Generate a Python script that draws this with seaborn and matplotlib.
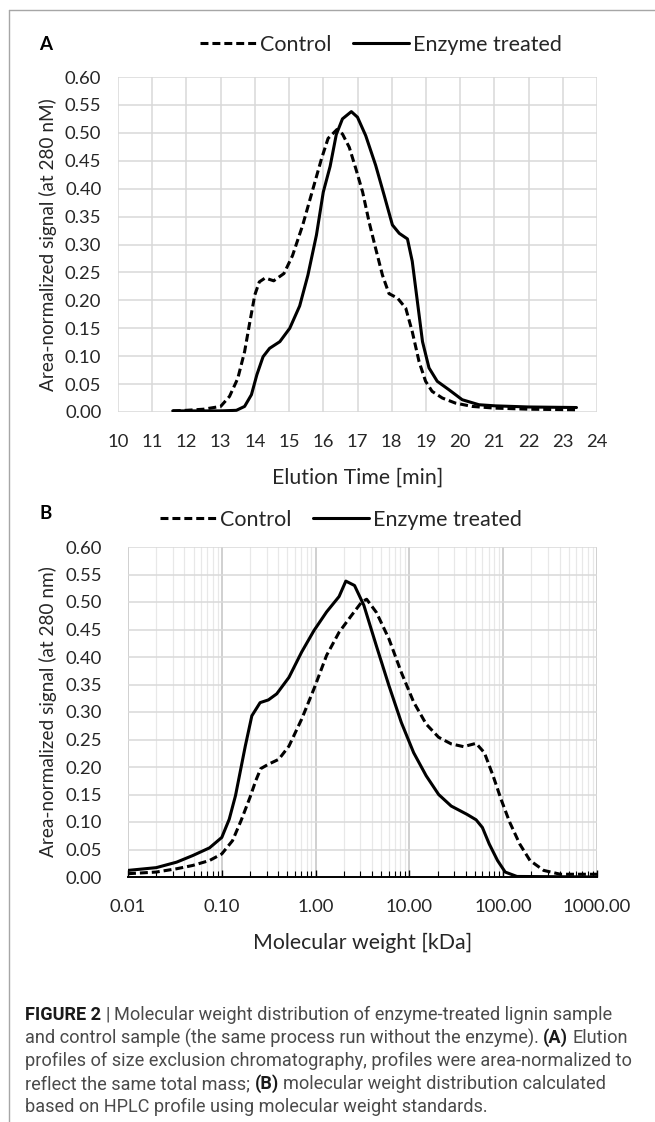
import matplotlib
matplotlib.use('Agg')
import matplotlib.pyplot as plt
import seaborn as sns
from matplotlib.lines import Line2D
from matplotlib.ticker import LogLocator, NullFormatter

sns.set_theme(style="whitegrid")
plt.rcParams['font.family'] = ['Lato', 'DejaVu Sans']

# ---- panel A: elution profiles ----
elution_ctrl = [11.6, 12.0, 12.5, 13.0, 13.26, 13.5, 13.7, 13.85, 14.0, 14.13, 14.3, 14.55,
                14.85, 15.1, 15.4, 15.7, 15.95, 16.14, 16.4, 16.56, 16.76, 16.95, 17.15,
                17.34, 17.53, 17.73, 17.92, 18.17, 18.41, 18.6, 18.8, 18.99, 19.18, 19.48,
                19.86, 20.35, 21.0, 22.0, 23.4]
signal_ctrl = [0.002, 0.003, 0.005, 0.01, 0.028, 0.06, 0.108, 0.16, 0.21, 0.233, 0.24, 0.235,
               0.248, 0.28, 0.335, 0.40, 0.454, 0.49, 0.506, 0.498, 0.474, 0.436, 0.394,
               0.34, 0.293, 0.245, 0.212, 0.204, 0.186, 0.144, 0.09, 0.055, 0.037, 0.025,
               0.016, 0.01, 0.007, 0.005, 0.004]
elution_enz = [11.6, 12.5, 13.0, 13.46, 13.7, 13.9, 14.06, 14.24, 14.43, 14.73, 15.02, 15.31,
               15.55, 15.8, 16.0, 16.2, 16.38, 16.56, 16.82, 17.0, 17.24, 17.53, 17.78,
               18.02, 18.22, 18.46, 18.6, 18.75, 18.9, 19.09, 19.33, 19.67, 20.06, 20.55,
               21.03, 22.0, 23.4]
signal_enz = [0.002, 0.002, 0.002, 0.003, 0.01, 0.031, 0.067, 0.099, 0.114, 0.126, 0.15, 0.19,
              0.245, 0.317, 0.394, 0.44, 0.497, 0.525, 0.538, 0.528, 0.495, 0.442, 0.388,
              0.335, 0.32, 0.31, 0.27, 0.198, 0.126, 0.079, 0.055, 0.04, 0.022, 0.013,
              0.011, 0.009, 0.008]

# ---- panel B: molecular weight distribution ----
mw_ctrl = [0.01, 0.02, 0.033, 0.049, 0.074, 0.1, 0.13, 0.16, 0.2, 0.23, 0.26, 0.314, 0.405,
           0.52, 0.71, 0.96, 1.31, 1.78, 2.4, 3.1, 3.5, 4.45, 6.05, 8.2, 11.1, 15.1, 20.5,
           27.9, 37.8, 51.4, 63, 78, 95, 117, 150, 193, 270, 407, 1000]
mw_signal_ctrl = [0.006, 0.009, 0.015, 0.021, 0.03, 0.042, 0.066, 0.102, 0.145, 0.175, 0.197,
                  0.205, 0.214, 0.238, 0.287, 0.342, 0.403, 0.445, 0.475, 0.5, 0.505, 0.481,
                  0.433, 0.372, 0.318, 0.278, 0.254, 0.242, 0.237, 0.243, 0.226, 0.184,
                  0.141, 0.1, 0.06, 0.03, 0.012, 0.005, 0.005]
mw_enz = [0.01, 0.02, 0.033, 0.049, 0.074, 0.1, 0.12, 0.14, 0.178, 0.209, 0.256, 0.314,
          0.385, 0.52, 0.71, 0.96, 1.31, 1.78, 2.1, 2.6, 3.27, 4.45, 6.05, 8.2, 11.1, 15.1,
          20.5, 27.9, 41, 51.4, 60, 71, 87, 105, 140, 1000]
mw_signal_enz = [0.012, 0.017, 0.027, 0.039, 0.053, 0.072, 0.105, 0.148, 0.238, 0.293, 0.317,
                 0.322, 0.333, 0.363, 0.409, 0.448, 0.482, 0.51, 0.538, 0.53, 0.494, 0.42,
                 0.348, 0.281, 0.226, 0.184, 0.15, 0.129, 0.114, 0.104, 0.09, 0.06, 0.03,
                 0.009, 0.001, 0.0]

elution_ticks = list(range(10, 25))
signal_ticks = [0.00, 0.05, 0.10, 0.15, 0.20, 0.25, 0.30, 0.35, 0.40, 0.45, 0.50, 0.55, 0.60]
mw_ticks = [0.01, 0.1, 1, 10, 100, 1000]
mw_tick_labels = ['0.01', '0.10', '1.00', '10.00', '100.00', '1000.00']

W, H = 655, 1122
def fx(px):
    return px / W
def fy(py):
    return 1 - py / H

fig = plt.figure(figsize=(W / 100, H / 100), dpi=100)
fig.patch.set_facecolor('white')

dash = (0, (2.6, 1.3))
txt_col = '#262626'
line_kw = dict(color='black', lw=2.2, solid_joinstyle='round', dash_joinstyle='round')
leg_kw = dict(loc='center', ncol=2, frameon=False, handlelength=2.6, handletextpad=0.2,
              columnspacing=1.0, fontsize=15.5, labelcolor=txt_col)

# ---------- A ----------
axA = fig.add_axes([fx(118), fy(412), (597 - 118) / W, (412 - 77) / H])
sns.lineplot(x=elution_ctrl, y=signal_ctrl, ax=axA, linestyle=dash, label='Control', **line_kw)
sns.lineplot(x=elution_enz, y=signal_enz, ax=axA, label='Enzyme treated', **line_kw)
axA.set_xlim(10, 24)
axA.set_ylim(0, 0.6)
axA.set_xticks(elution_ticks)
axA.set_xticklabels([str(t) for t in elution_ticks])
axA.set_yticks(signal_ticks)
axA.set_yticklabels([f'{v:.2f}' for v in signal_ticks])
axA.grid(True, color='#d9d9d9', lw=1.1)
for s in axA.spines.values():
    s.set_visible(False)
axA.tick_params(axis='both', length=0, labelsize=13.3, labelcolor=txt_col)
axA.tick_params(axis='x', pad=16)
axA.tick_params(axis='y', pad=12)
axA.set_xlabel('Elution Time [min]', fontsize=15.3, color=txt_col)
axA.xaxis.set_label_coords(0.5, -66 / 335)
axA.xaxis.label.set_va('center')
axA.set_ylabel('Area-normalized signal (at 280 nM)', fontsize=13.7, color=txt_col)
axA.yaxis.set_label_coords((48 - 118) / 479, 0.5)
axA.yaxis.label.set_va('center')
axA.legend(bbox_to_anchor=(fx(381), fy(45)), bbox_transform=fig.transFigure, **leg_kw)

# ---------- B ----------
axB = fig.add_axes([fx(128), fy(877), (597 - 128) / W, (877 - 547) / H])
sns.lineplot(x=mw_ctrl, y=mw_signal_ctrl, ax=axB, linestyle=dash, label='Control', **line_kw)
sns.lineplot(x=mw_enz, y=mw_signal_enz, ax=axB, label='Enzyme treated', **line_kw)
axB.set_xscale('log')
axB.set_xlim(0.01, 1000)
axB.set_ylim(0, 0.6)
axB.set_xticks(mw_ticks)
axB.set_xticklabels(mw_tick_labels)
axB.xaxis.set_minor_locator(LogLocator(base=10, subs=range(2, 10)))
axB.xaxis.set_minor_formatter(NullFormatter())
axB.set_yticks(signal_ticks)
axB.set_yticklabels([f'{v:.2f}' for v in signal_ticks])
axB.grid(True, which='major', axis='x', color='#c4c4c4', lw=1.1)
axB.grid(True, which='minor', axis='x', color='#e8e8e8', lw=0.9)
axB.grid(True, which='major', axis='y', color='#d9d9d9', lw=1.1)
for k, s in axB.spines.items():
    s.set_visible(k == 'bottom')
axB.spines['bottom'].set_color('black')
axB.spines['bottom'].set_linewidth(1.4)
axB.tick_params(axis='x', which='both', direction='in', bottom=True, color='black')
axB.tick_params(axis='x', which='major', length=5, width=1.0, pad=16)
axB.tick_params(axis='x', which='minor', length=4, width=0.8)
axB.tick_params(axis='y', length=0, pad=19)
axB.tick_params(axis='both', labelsize=13.3, labelcolor=txt_col)
axB.set_xlabel('Molecular weight [kDa]', fontsize=15.3, color=txt_col)
axB.xaxis.set_label_coords(0.5, -66 / 330)
axB.xaxis.label.set_va('center')
axB.set_ylabel('Area-normalized signal (at 280 nm)', fontsize=13.7, color=txt_col)
axB.yaxis.set_label_coords((48 - 128) / 469, 0.5)
axB.yaxis.label.set_va('center')
axB.legend(bbox_to_anchor=(fx(341), fy(520)), bbox_transform=fig.transFigure, **leg_kw)

# panel letters
fig.text(fx(46), fy(45), 'A', fontweight='bold', fontsize=13.5, ha='center', va='center',
         color='black')
fig.text(fx(46), fy(513), 'B', fontweight='bold', fontsize=13.5, ha='center', va='center',
         color='black')

# frame lines
fig.add_artist(Line2D([fx(9), fx(9)], [fy(10), 0], transform=fig.transFigure,
                      color='#a6a6a6', lw=1.0))
fig.add_artist(Line2D([fx(9), 1], [fy(10), fy(10)], transform=fig.transFigure,
                      color='#a6a6a6', lw=1.0))

# caption
cap_font = dict(family=['Roboto', 'DejaVu Sans'], fontsize=13.1)
caption_lines = [
    [('FIGURE 2', 'bold'), ('|', 'normal'), ('Molecular weight distribution of enzyme-treated lignin sample', 'normal')],
    [('and control sample (the same process run without the enzyme).', 'normal'), ('(A)', 'bold'), ('Elution', 'normal')],
    [('profiles of size exclusion chromatography, profiles were area-normalized to', 'normal')],
    [('reflect the same total mass;', 'normal'), ('(B)', 'bold'), ('molecular weight distribution calculated', 'normal')],
    [('based on HPLC profile using molecular weight standards.', 'normal')],
]
renderer = fig.canvas.get_renderer()

def text_width(s, weight):
    t = fig.text(0, 0, s, fontweight=weight, **cap_font)
    w = t.get_window_extent(renderer).width
    t.remove()
    return w

space_w = text_width('a a', 'normal') - text_width('aa', 'normal')
for i, segs in enumerate(caption_lines):
    x = 25.0
    y = 1015 + 23 * i
    for s, wt in segs:
        col = '#1a1a1a' if wt == 'bold' else '#4a4a4a'
        t = fig.text(fx(x), fy(y), s, fontweight=wt, color=col, ha='left', va='center',
                     **cap_font)
        x += t.get_window_extent(renderer).width + space_w

fig.savefig('out.png', dpi=100)
